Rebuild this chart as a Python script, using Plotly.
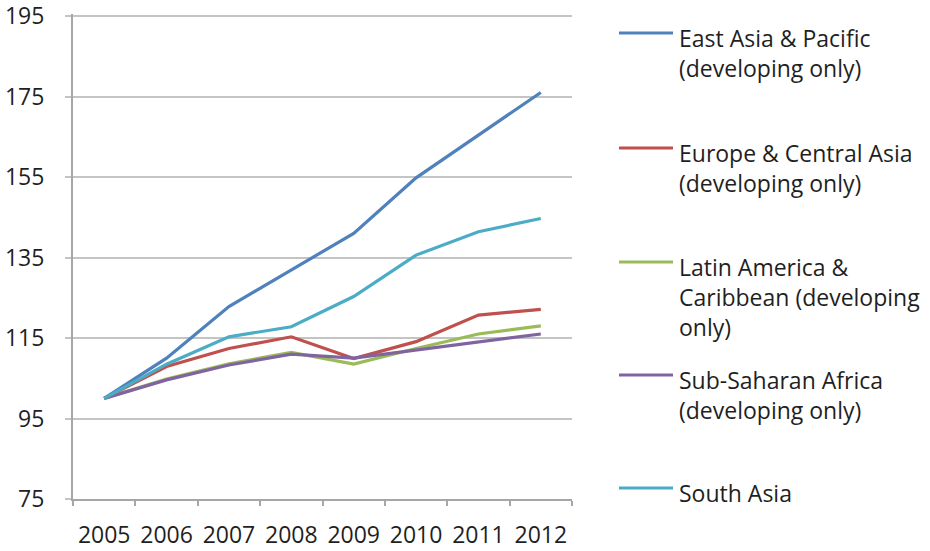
import plotly.graph_objects as go

years = ["2005", "2006", "2007", "2008", "2009", "2010", "2011", "2012"]

east_asia = [100, 110, 122.8, 131.8, 141, 154.8, 165.3, 176]
europe = [100, 107.9, 112.4, 115.3, 109.9, 114.1, 120.7, 122.1]
latin_america = [100, 104.8, 108.6, 111.4, 108.5, 112.4, 116.0, 118.0]
sub_saharan = [100, 104.6, 108.3, 111.0, 110.0, 112.0, 114.1, 116.0]
south_asia = [100, 108.5, 115.3, 117.8, 125.3, 135.6, 141.4, 144.7]

series_names = [
    "East Asia & Pacific<br>(developing only)",
    "Europe & Central Asia<br>(developing only)",
    "Latin America &<br>Caribbean (developing<br>only)",
    "Sub-Saharan Africa<br>(developing only)",
    "South Asia",
]
series_values = [east_asia, europe, latin_america, sub_saharan, south_asia]
colors = ["#4F81BD", "#C0504D", "#9BBB59", "#8064A2", "#4BACC6"]

y_ticks = [75, 95, 115, 135, 155, 175, 195]

W, H = 930, 551
L, R, T, B = 73, 358, 14, 52
pw, ph = W - L - R, H - T - B

def px_x(px):
    return (px - L) / pw

def px_y(py):
    return (H - B - py) / ph

font_family = "Open Sans, Liberation Sans, sans-serif"
text_color = "#1f1f1f"

fig = go.Figure()
for name, vals, col in zip(series_names, series_values, colors):
    fig.add_trace(go.Scatter(
        x=years, y=vals, mode="lines", name=name.replace("<br>", " "),
        line=dict(color=col, width=3.2), showlegend=False,
        hoverinfo="x+y+name",
    ))

legend_line_y = [33, 148, 262, 375, 488]
shapes = []
annotations = []
for name, col, ly in zip(series_names, colors, legend_line_y):
    shapes.append(dict(type="line", xref="paper", yref="paper",
                       x0=px_x(619), x1=px_x(673), y0=px_y(ly), y1=px_y(ly),
                       line=dict(color=col, width=3)))
    annotations.append(dict(text=name, xref="paper", yref="paper",
                            x=px_x(677), y=px_y(ly - 13), xanchor="left", yanchor="top",
                            align="left", showarrow=False,
                            font=dict(family=font_family, size=23, color=text_color)))

fig.update_layout(
    width=W, height=H,
    margin=dict(l=L, r=R, t=T, b=B, autoexpand=False),
    paper_bgcolor="white", plot_bgcolor="white",
    shapes=shapes, annotations=annotations,
    xaxis=dict(
        type="category", range=[-0.5, 7.5], automargin=False,
        showgrid=False, showline=True, linecolor="#a6a6a6", linewidth=2,
        ticks="outside", tickson="boundaries", ticklen=5, tickcolor="#a6a6a6", tickwidth=2,
        tickfont=dict(family=font_family, size=23, color=text_color),
        tickangle=0, ticklabelstandoff=14, ticklabeloverflow="allow",
        zeroline=False,
    ),
    yaxis=dict(
        range=[75, 195.5], tickvals=y_ticks, automargin=False,
        showgrid=True, gridcolor="#c4c4c4", gridwidth=2,
        showline=True, linecolor="#a6a6a6", linewidth=2,
        ticks="outside", ticklen=6, tickcolor="#c4c4c4", tickwidth=2,
        tickfont=dict(family=font_family, size=23, color=text_color),
        ticklabelstandoff=16, ticklabeloverflow="allow",
        zeroline=False,
    ),
)

fig.write_html("out.html")
